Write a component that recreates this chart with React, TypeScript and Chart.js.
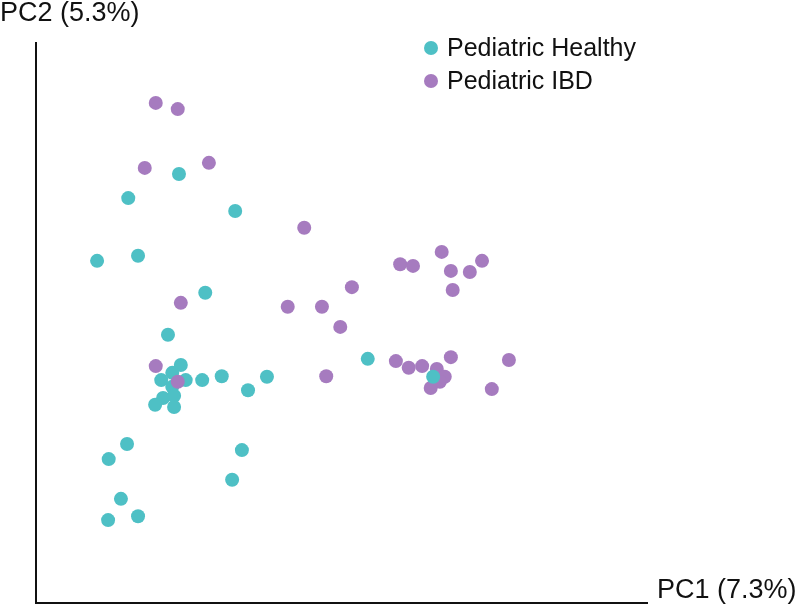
import React, { useEffect, useRef } from "react";
import { Chart, registerables } from "chart.js";

Chart.register(...registerables);

// PCA scores (arbitrary units, 0-100 range of plot)
const healthyX = [23.4, 15.1, 32.6, 10.0, 16.7, 27.7, 21.6, 23.7, 22.3, 20.5, 24.5, 27.2, 30.4, 37.8, 34.7, 22.3, 20.8, 22.6, 19.5, 22.6, 54.3, 14.9, 11.9, 33.7, 32.1, 13.9, 11.8, 16.7];
const healthyY = [76.6, 72.3, 70.0, 61.1, 62.0, 55.4, 47.9, 42.5, 41.1, 39.8, 39.8, 39.8, 40.5, 40.4, 38.0, 38.6, 36.6, 37.0, 35.4, 35.0, 43.6, 28.4, 25.7, 27.3, 22.0, 18.6, 14.8, 15.5];
const healthyTopX = [65.0];
const healthyTopY = [40.4];

const ibdX = [19.6, 23.2, 17.8, 28.3, 43.9, 23.7, 41.2, 46.8, 51.7, 49.8, 47.5, 19.6, 23.2, 66.4, 59.6, 61.7, 67.9, 71.0, 73.0, 68.2, 58.9, 61.0, 63.2, 67.9, 77.4, 65.6, 66.9, 66.1, 64.6, 74.6];
const ibdY = [89.3, 88.2, 77.7, 78.6, 67.0, 53.6, 52.9, 52.9, 56.4, 49.3, 40.5, 42.3, 39.5, 62.7, 60.5, 60.2, 59.3, 59.1, 61.1, 55.9, 43.2, 42.0, 42.3, 43.9, 43.4, 41.8, 40.4, 39.5, 38.4, 38.2];

const seriesLabels = ["Pediatric Healthy", "Pediatric IBD"];
const seriesColors = ["#4EC0C5", "#A67BBF"];
const xTitle = "PC1 (7.3%)";
const yTitle = "PC2 (5.3%)";

const FONT = "'Liberation Sans', Arial, Helvetica, sans-serif";

const zip = (xs: number[], ys: number[]) => xs.map((x, i) => ({ x, y: ys[i] }));

const annotations = {
  id: "annotations",
  afterDraw(chart: any) {
    const ctx = chart.ctx;
    const area = chart.chartArea;
    ctx.save();
    ctx.fillStyle = "#111";
    ctx.font = `27px ${FONT}`;
    ctx.textBaseline = "alphabetic";
    ctx.textAlign = "left";
    ctx.fillText(yTitle, 0, area.top - 22);
    ctx.fillText(xTitle, area.right + 10, area.bottom - 5);
    // legend
    ctx.font = `25px ${FONT}`;
    ctx.textBaseline = "middle";
    seriesLabels.forEach((lab, i) => {
      const cy = area.top + 5 + i * 33;
      const cx = area.left + 395;
      ctx.beginPath();
      ctx.arc(cx, cy, 7, 0, Math.PI * 2);
      ctx.fillStyle = seriesColors[i];
      ctx.fill();
      ctx.fillStyle = "#111";
      ctx.fillText(lab, cx + 16, cy + 1);
    });
    ctx.restore();
  },
};

export default function App() {
  const ref = useRef<HTMLCanvasElement>(null);
  useEffect(() => {
    document.body.style.margin = "0";
    const chart = new Chart(ref.current!, {
      type: "scatter",
      data: {
        datasets: [
          {
            label: seriesLabels[0] + " top",
            data: zip(healthyTopX, healthyTopY),
            backgroundColor: seriesColors[0],
            pointRadius: 7,
            borderWidth: 0,
            order: 0,
          },
          {
            label: seriesLabels[1],
            data: zip(ibdX, ibdY),
            backgroundColor: seriesColors[1],
            pointRadius: 7,
            borderWidth: 0,
            order: 1,
          },
          {
            label: seriesLabels[0],
            data: zip(healthyX, healthyY),
            backgroundColor: seriesColors[0],
            pointRadius: 7,
            borderWidth: 0,
            order: 2,
          },
        ],
      },
      options: {
        animation: false,
        responsive: false,
        clip: false as any,
        layout: { padding: { left: 36, right: 153, top: 43, bottom: 8 } },
        plugins: { legend: { display: false }, tooltip: { enabled: false } },
        scales: {
          x: {
            type: "linear",
            min: 0,
            max: 100,
            grid: { display: false, drawTicks: false },
            border: { display: true, color: "#111", width: 2 },
            ticks: { display: false },
          },
          y: {
            type: "linear",
            min: 0,
            max: 100,
            grid: { display: false, drawTicks: false },
            border: { display: true, color: "#111", width: 2 },
            ticks: { display: false },
          },
        },
      },
      plugins: [annotations],
    });
    return () => chart.destroy();
  }, []);
  return (
    <div style={{ position: "fixed", left: 0, top: 0, width: 800, height: 611, background: "#fff" }}>
      <canvas ref={ref} width={800} height={611} />
    </div>
  );
}
